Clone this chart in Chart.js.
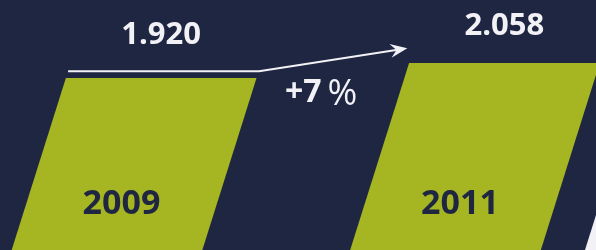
<html>
<head>
<meta charset="utf-8">
<script src="https://cdn.jsdelivr.net/npm/chart.js@4.4.1/dist/chart.umd.min.js"></script>
<style>
  body { margin: 0; background: #1f2642; overflow: hidden; }
  canvas { display: block; }
</style>
</head>
<body>
<canvas id="growthChart" width="596" height="250"></canvas>
<script>
// chart data
var years = ['2009', '2011'];
var totals = [1920, 2058];
var totalLabels = ['1.920', '2.058'];

var NAVY = '#1f2642';
var GREEN = '#a6b622';
var WHITE = '#f2f2f6';
var FONT = '"Open Sans"';
var SLANT = 0.315; // horizontal shift per px of height

// top corners of a skewed bar, skew is anchored on the chart area bottom
function barTop(el, b) {
  var shift = SLANT * (b - el.y);
  return { left: el.x - el.width / 2 + shift, right: el.x + el.width / 2 + shift, y: el.y };
}

var slantPlugin = {
  id: 'slant',
  beforeDatasetsDraw: function(chart) {
    var ctx = chart.ctx;
    var b = chart.chartArea.bottom;
    ctx.save();
    ctx.transform(1, 0, -SLANT, 1, SLANT * b, 0);
    // white edge piece in the bottom right corner
    ctx.fillStyle = WHITE;
    ctx.fillRect(585, 0, 200, b);
  },
  afterDatasetsDraw: function(chart, args, opts) {
    var ctx = chart.ctx;
    ctx.restore();
    var b = chart.chartArea.bottom;
    var bars = chart.getDatasetMeta(0).data;
    var t1 = barTop(bars[0], b);
    var t2 = barTop(bars[1], b);

    ctx.save();
    ctx.textAlign = 'center';
    ctx.textBaseline = 'middle';

    // value labels over the bars
    ctx.fillStyle = WHITE;
    ctx.font = 'bold 31px ' + FONT;
    bars.forEach(function(el, i) {
      var t = barTop(el, b);
      ctx.fillText(totalLabels[i], (t.left + t.right) / 2, t.y - opts.labelGap[i]);
    });

    // year labels inside the bars
    ctx.fillStyle = NAVY;
    ctx.font = 'bold 34px ' + FONT;
    bars.forEach(function(el, i) {
      var y = b - 46;
      ctx.fillText(years[i], el.x + SLANT * (b - y), y);
    });

    // growth arrow
    var x0 = t1.left + 2, y0 = t1.y - 7;
    var x1 = t1.right + 3;
    var x2 = t2.left - 2, y2 = t2.y - 15;
    ctx.strokeStyle = WHITE;
    ctx.lineWidth = 2;
    ctx.beginPath();
    ctx.moveTo(x0, y0);
    ctx.lineTo(x1, y0);
    ctx.lineTo(x2 - 8, y2 + (y0 - y2) * 8 / (x2 - x1));
    ctx.stroke();
    var a = Math.atan2(y2 - y0, x2 - x1);
    ctx.save();
    ctx.translate(x2, y2);
    ctx.rotate(a);
    ctx.fillStyle = WHITE;
    ctx.beginPath();
    ctx.moveTo(0, 0);
    ctx.lineTo(-17, -7);
    ctx.lineTo(-11, 0);
    ctx.lineTo(-17, 7);
    ctx.closePath();
    ctx.fill();
    ctx.restore();

    // growth percentage: bold number, lighter percent sign
    var pct = Math.round((totals[1] / totals[0] - 1) * 100);
    var numText = '+' + pct;
    var boldFont = 'bold 32px ' + FONT;
    var lightFont = '36px ' + FONT;
    ctx.font = boldFont;
    var wNum = ctx.measureText(numText).width;
    ctx.font = lightFont;
    var wPct = ctx.measureText('%').width;
    var gap = 6;
    var px = x1 + 62 - (wNum + gap + wPct) / 2;
    var py = t1.y + 15;
    ctx.textAlign = 'left';
    ctx.fillStyle = WHITE;
    ctx.font = boldFont;
    ctx.fillText(numText, px, py);
    ctx.font = lightFont;
    ctx.fillText('%', px + wNum + gap, py + 1);
    ctx.restore();
  }
};

var ctx = document.getElementById('growthChart').getContext('2d');
var growthChart = new Chart(ctx, {
  type: 'bar',
  data: {
    labels: years,
    datasets: [{
      data: totals,
      backgroundColor: GREEN,
      borderWidth: 0,
      barThickness: 190,
      clip: false
    }]
  },
  options: {
    responsive: false,
    animation: false,
    layout: { padding: { left: 107, right: 150.5, top: 0, bottom: 0 } },
    plugins: {
      legend: { display: false },
      tooltip: { enabled: false },
      slant: { labelGap: [43, 37] }
    },
    scales: {
      x: { display: false, offset: false },
      y: { display: false, min: 340, max: 2640 }
    }
  },
  plugins: [slantPlugin]
});
</script>
</body>
</html>
